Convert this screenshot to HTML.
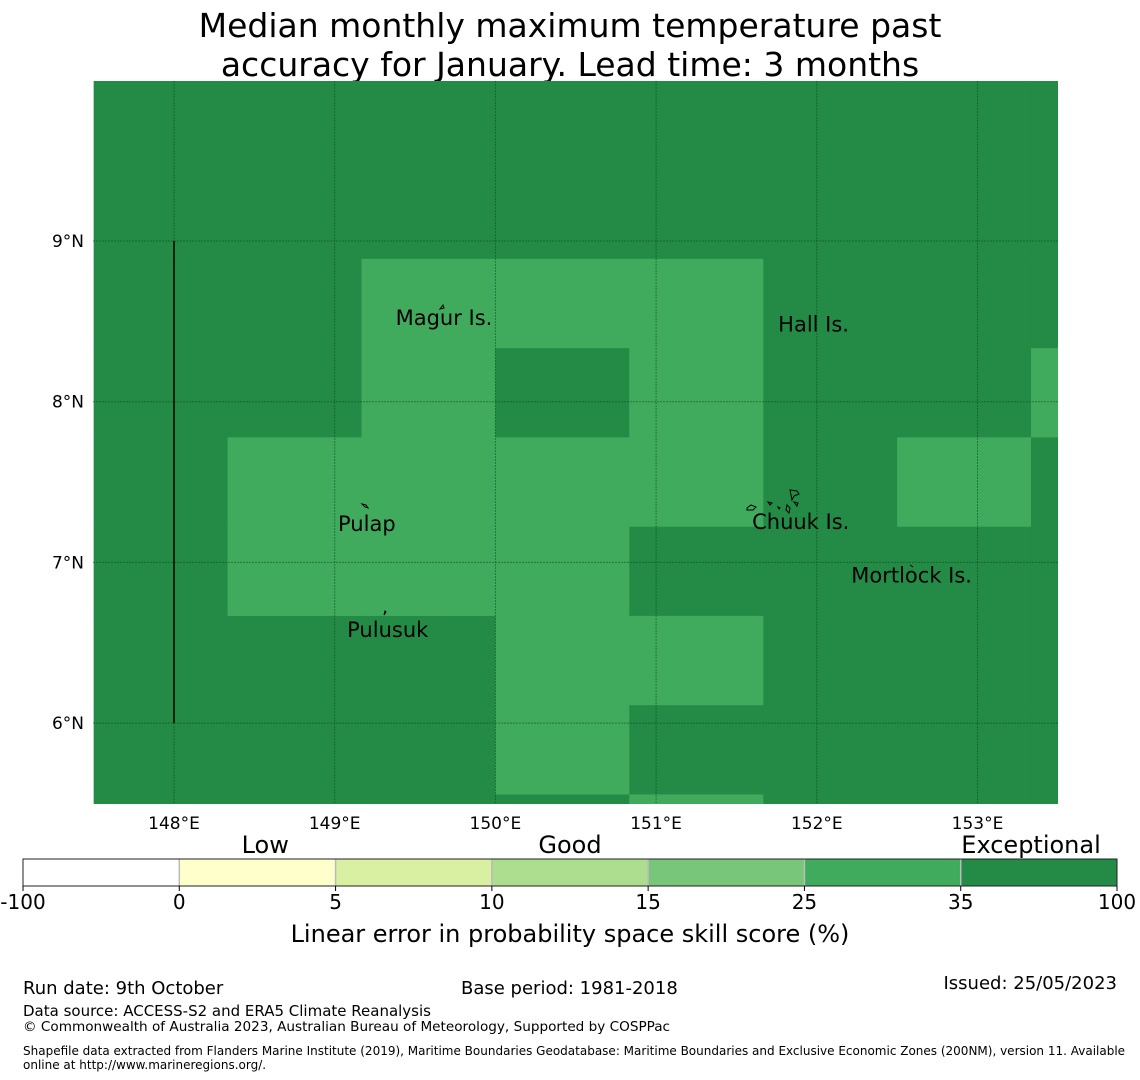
<!DOCTYPE html>
<html><head><meta charset="utf-8">
<style>
html,body{margin:0;padding:0;background:#fff;}
svg{display:block;font-family:"DejaVu Sans","Liberation Sans",sans-serif;}
</style></head>
<body>
<svg id="chart" width="1140" height="1080" viewBox="0 0 1140 1080" xmlns="http://www.w3.org/2000/svg">
  <text x="570" y="37" text-anchor="middle" font-size="33">Median monthly maximum temperature past</text>
  <text x="570" y="76" text-anchor="middle" font-size="33">accuracy for January. Lead time: 3 months</text>
  <defs><clipPath id="mapclip"><rect x="93" y="81" width="965" height="723"/></clipPath></defs>
  <g id="map" clip-path="url(#mapclip)"></g>
  <g id="gridl" clip-path="url(#mapclip)"></g>
  <g id="islands"></g>
  <g id="axes"></g>
  <g id="cbar"></g>
  <text x="570" y="942" text-anchor="middle" font-size="24">Linear error in probability space skill score (%)</text>
  <text x="23" y="994" font-size="18">Run date: 9th October</text>
  <text x="461" y="994" font-size="18">Base period: 1981-2018</text>
  <text x="1117" y="989" text-anchor="end" font-size="18">Issued: 25/05/2023</text>
  <text x="23" y="1016" font-size="15">Data source: ACCESS-S2 and ERA5 Climate Reanalysis</text>
  <text x="23" y="1031" font-size="13.6">© Commonwealth of Australia 2023, Australian Bureau of Meteorology, Supported by COSPPac</text>
  <text x="23" y="1055" font-size="12">Shapefile data extracted from Flanders Marine Institute (2019), Maritime Boundaries Geodatabase: Maritime Boundaries and Exclusive Economic Zones (200NM), version 11. Available</text>
  <text x="23" y="1069" font-size="12">online at http://www.marineregions.org/.</text>
</svg>
<script>
// ---- data ----
const lonEdges = [147.5, 148.333, 149.167, 150.0, 150.833, 151.667, 152.5, 153.333, 154.167];
const latEdges = [10.0, 9.444, 8.889, 8.333, 7.778, 7.222, 6.667, 6.111, 5.556, 5.0];
// skill score per cell, rows top (north) to bottom (south)
const skillValues = [
  [40,40,40,40,40,40,40,40],
  [40,40,40,40,40,40,40,40],
  [40,40,30,30,30,40,40,40],
  [40,40,30,40,30,40,40,30],
  [40,30,30,30,30,40,30,40],
  [40,30,30,30,40,40,40,40],
  [40,40,40,30,30,40,40,40],
  [40,40,40,30,40,40,40,40],
  [40,40,40,40,30,40,40,40]
];
const lonTicks = [148,149,150,151,152,153];
const latTicks = [9,8,7,6];
const binBounds = [-100,0,5,10,15,25,35,100];
const binColors = ['#ffffff','#ffffcc','#d9f0a3','#addd8e','#78c679','#41ab5d','#238b45'];
const binTickLabels = ['-100','0','5','10','15','25','35','100'];
const categoryLabels = ['Low','Good','Exceptional'];
const categoryPos = [1.55, 3.5, 6.45];
const placeNames = ['Magur Is.','Hall Is.','Pulap','Chuuk Is.','Mortlock Is.','Pulusuk'];
const placeLon = [149.68, 151.98, 149.2, 151.9, 152.59, 149.33];
const placeLat = [8.52, 8.48, 7.24, 7.25, 6.92, 6.58];

// ---- axes ----
const PX = 160.7;
const xScale = lon => 174 + (lon - 148) * PX;
const yScale = lat => 241 + (9 - lat) * PX;
const NS = 'http://www.w3.org/2000/svg';
function mk(tag, attrs, parent){const e=document.createElementNS(NS,tag);for(const k in attrs)e.setAttribute(k,attrs[k]);parent.appendChild(e);return e;}
function colorFor(v){for(let i=0;i<binColors.length;i++){if(v<binBounds[i+1]||i===binColors.length-1)return binColors[i];}return binColors[binColors.length-1];}

const map=document.getElementById('map');
for(let r=0;r<skillValues.length;r++){
  for(let c=0;c<skillValues[r].length;c++){
    const x0=xScale(lonEdges[c]),x1=xScale(lonEdges[c+1]),y0=yScale(latEdges[r]),y1=yScale(latEdges[r+1]);
    const e=mk('rect',{x:x0,y:y0,width:x1-x0+0.5,height:y1-y0+0.5,fill:colorFor(skillValues[r][c])},map);
    
    
  }
}
const gl=document.getElementById('gridl');
const ax=document.getElementById('axes');
lonTicks.forEach(l=>{
  const x=xScale(l);
  const e=mk('line',{x1:x,x2:x,y1:81,y2:804,stroke:'#0b4a1e','stroke-opacity':0.55,'stroke-width':1,'stroke-dasharray':'2,1'},gl);
  
  
  const t=mk('text',{x:x,y:829,'text-anchor':'middle','font-size':17},ax);t.textContent=l+'°E';
  
  
});
latTicks.forEach(l=>{
  const y=yScale(l);
  const e=mk('line',{x1:93,x2:1058,y1:y,y2:y,stroke:'#0b4a1e','stroke-opacity':0.55,'stroke-width':1,'stroke-dasharray':'2,1'},gl);
  
  
  const t=mk('text',{x:84,y:y+6,'text-anchor':'end','font-size':17},ax);t.textContent=l+'°N';
  
  
});
const bl=mk('line',{x1:xScale(148),x2:xScale(148),y1:yScale(9),y2:yScale(6),stroke:'#000','stroke-width':1.5},ax);



const isl=document.getElementById('islands');
const islandPaths=['M440,309 l3,-4 l1,3 z','M362,504 l4,1 l2,3 l-3,-1 z','M384,615 l1,-4 l1,1 z',
 'M790,490 l7,1 l2,3 l-5,2 l-2,4 z','M747,508 l4,-3 l5,2 l-3,3 l-6,0 z','M768,502 l4,1 l-2,2 z','M787,505 l3,3 l-1,5 l-3,-3 z','M794,502 l4,1 l-1,3 z','M778,507 l2,1 l-1,1 z','M910,565 l3,2'];
islandPaths.forEach(d=>{const e=mk('path',{d:d,fill:'none',stroke:'#000','stroke-width':1},isl);
  
  });
placeNames.forEach((n,i)=>{
  const t=mk('text',{x:xScale(placeLon[i]),y:yScale(placeLat[i])+7,'text-anchor':'middle','font-size':21},isl);t.textContent=n;
  
  
});

const cb=document.getElementById('cbar');
const cbX=23,cbW=1094,cbY=859,cbH=27,segW=cbW/binColors.length;
binColors.forEach((c,i)=>{
  const e=mk('rect',{x:cbX+i*segW,y:cbY,width:segW,height:cbH,fill:c},cb);
  
  
  if(i>0){const d=mk('line',{x1:cbX+i*segW,x2:cbX+i*segW,y1:cbY,y2:cbY+cbH,stroke:'#bbb','stroke-width':1.5},cb);
    
    }
});
const fr=mk('rect',{x:cbX,y:cbY,width:cbW,height:cbH,fill:'none',stroke:'#222','stroke-width':1},cb);


binTickLabels.forEach((l,i)=>{
  const x=cbX+i*segW;
  const tk=mk('line',{x1:x,x2:x,y1:cbY+cbH,y2:cbY+cbH+5,stroke:'#000'},cb);
  
  
  const t=mk('text',{x:x,y:909,'text-anchor':'middle','font-size':20},cb);t.textContent=l;
  
  
});
categoryLabels.forEach((l,i)=>{
  const t=mk('text',{x:cbX+categoryPos[i]*segW,y:853,'text-anchor':'middle','font-size':24},cb);t.textContent=l;
  
  
});
</script>
</body></html>
